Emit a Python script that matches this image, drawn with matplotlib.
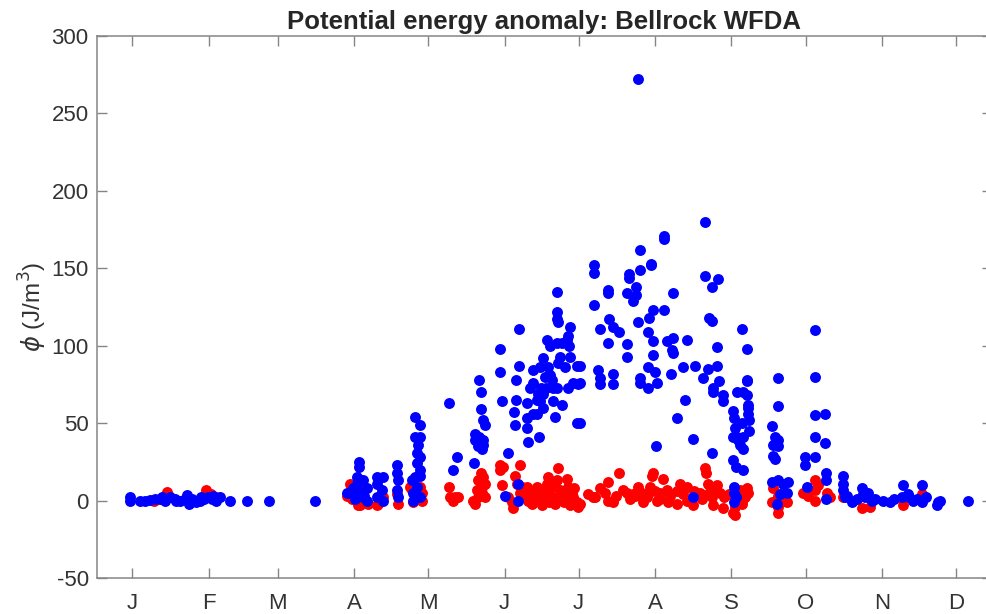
import numpy as np
import matplotlib
matplotlib.use('Agg')
import matplotlib.pyplot as plt

plt.rcParams['font.family'] = ['Liberation Sans', 'DejaVu Sans']
plt.rcParams['axes.unicode_minus'] = False

# month starts (day of year) and labels
month_days = [1, 32, 60, 91, 121, 152, 182, 213, 244, 274, 305, 335]
month_labels = ['J', 'F', 'M', 'A', 'M', 'J', 'J', 'A', 'S', 'O', 'N', 'D']

# blue series: day of year, phi (J/m^3)
blue_day = [
    0.2, 0.2, 4.2, 6.3, 8.3, 10.3, 12.3, 13, 14.4, 16.4, 18.4, 19, 20.5, 22.5, 23.3, 23.7, 24, 25.3, 26.9,
    28.6, 29, 30.2, 31.8, 33.4, 34, 35.0, 36.7, 40.7, 47.6, 56.5, 75.1,
    88.1, 90.6, 93.0, 93.0, 92.2, 94.6, 96.2, 94.6, 91.4, 89.4, 93.4, 96.2, 92, 95,
    100.3, 102.7, 100.3, 102.3, 100.3, 102.7,
    108.4, 108.4, 108.8, 108.4, 108.8,
    115.7, 117.7, 115.7, 117.7, 116.9, 116.5, 117.7, 116.5, 117.7, 115.7, 117.7, 114.5, 116.5, 114.9, 114.9, 117.7,
    129.5, 132.7, 131.1,
    141.6, 142.5, 142.5, 143.3, 144.1, 140.0, 141.6, 140.0, 143.3, 141.2, 143.3, 142.9, 139.6, 142,
    150.2, 150.2, 151.0, 153.4, 156.6, 157.9, 157.9, 156.6, 155.8, 156.2, 161.1, 161.1, 161.1, 161.5,
    163.5, 163.5, 165.1, 165.1, 165.9, 166.4, 166.8, 167.6, 166.4, 167.6, 167.6, 168.4, 169.2, 169.6,
    170.4, 170.4, 171.2, 171.6, 172.4, 173.3, 173.3, 173.3, 173.7, 173.3, 174.5, 175.3, 176.5, 177.3,
    177.7, 178.5, 178.1, 178.5, 173.7, 173.3, 175.3, 177.7, 179.7, 181.4, 181.8, 181.4, 165.5, 168.8,
    171.6, 163.5, 162.3, 157.4, 157.4, 152,
    206.1, 233.2, 216.6, 216.6, 206.9, 211.4, 211.4, 188.2, 188.2, 206.9, 202.4, 202.4, 233.2, 238.5,
    236.1, 205.3, 193.9, 193.9, 201.6, 205.3, 204.1, 220.3, 188.2, 212.2, 216.6, 210.6, 194.3, 234.9,
    236.1, 190.7, 196.0, 198.4, 206.1, 210.1, 248.3, 193.9, 201.6, 212.2, 217.8, 220.3, 225.9, 220.3,
    238.1, 250.3, 201.6, 212.2,
    219.9, 182.6, 182.6, 189.9, 190.7, 190.7, 196.0, 196.0, 206.9, 206.9, 210.1, 210.1, 213.0, 213.8,
    219.5, 224.3, 229.2, 232.4, 234.5, 238.1, 238.9, 236.5, 236.5, 240.5, 240.5, 246.2, 250.3, 250.3,
    250.7, 250.7, 251.1, 251.1, 244.6, 245.0, 245.4, 246.2, 246.7, 247.5, 248.6, 244.6, 225.1, 221.9,
    228.4, 213.4, 236.1, 244.6, 245.8, 248.6, 228.4, 182.6, 245.0, 245.0, 245.0, 245.8,
    250.3, 248.6, 250.7, 248.3, 248.6,
    262.8, 262.8, 260.4, 261.6, 262.8, 260.8, 262.8, 260.8, 261.6, 260.4, 262.8, 264.8, 266.9, 263.6,
    266.5, 262.4,
    277.8, 277.8, 277.8, 281.9, 277.8, 281.9, 273.8, 277.8, 273.8, 282.3, 282.3, 282.3, 274.6,
    289.2, 289.2, 289.2, 290.0, 292.8, 296.9, 297.3, 299.3, 300.9, 305.4, 308.2, 313.5, 313.1, 315.5,
    317.5, 321.2, 321.2, 327.7, 328.5, 327.3, 339.8,
    291, 295, 298, 302, 310, 316, 319, 323,
]
blue_phi = [
    2, 0, 0, 0, 0.5, 1, 1, 2, 0, 2, 1, 0, 0, 1, 3.5, 0, -2, 1, -1,
    0, 2, 1, 2, 1, 3, 0, 2, 0, 0, 0, 0,
    5, 8, 25, 22, 15, 13, 8, 2, 1, 5, 5, 0, 11, 3,
    15, 15, 11, 7, 2, 0,
    23, 18, 13, 7, 2,
    54, 49, 41, 41, 36, 31, 28, 24, 20, 15, 16, 13, 9, 5, 0, 2,
    63, 28, 20,
    78, 70, 59, 52, 49, 43, 41, 39, 39, 35, 36, 33, 24, 35,
    98, 83, 64, 31, 78, 111, 87, 65, 57, 49, 63, 53, 47, 38,
    84, 76, 65, 56, 41, 86, 73, 69, 64, 60, 92, 80, 104, 86,
    100, 81, 78, 64, 54, 135, 122, 117, 115, 102, 93, 102, 86, 104,
    106, 112, 100, 93, 89, 73, 62, 73, 76, 87, 75, 50, 69, 73,
    73, 56, 73, 11, 0, 3,
    272, 180, 171, 169, 162, 153, 152, 152, 147, 149, 146, 144, 145, 143,
    138, 138, 136, 134, 134, 133, 129, 134, 126, 123, 123, 118, 117, 118,
    116, 111, 112, 109, 115, 109, 111, 102, 101, 103, 103, 105, 104, 95,
    99, 98, 93, 94,
    97, 87, 76, 84, 79, 75, 82, 75, 79, 76, 73, 86, 83, 76,
    82, 86, 87, 79, 85, 87, 77, 73, 70, 68, 64, 70, 77, 68,
    62, 56, 52, 45, 58, 53, 47, 41, 39, 36, 33, 41, 65, 53,
    40, 35, 31, 26, 22, 20, 2, 50, 9, 5, -1, 2,
    78, 70, 60, 50, 41,
    79, 61, 48, 41, 39, 36, 35, 29, 27, 12, 13, 11, 12, 4,
    5, -2,
    110, 80, 55, 56, 41, 37, 28, 28, 23, 18, 13, 1, 9,
    16, 11, 7, 2, -1, 8, 4, 5, 0, 0, -1, 10, 2, 4,
    0, 10, -1, -1, 0, -3, 0,
    3, 1, 2, 1, 1, 2, 1, 2,
]

# red series: day of year, phi (J/m^3)
red_day = [
    15.2, 16, 31, 33, 24, 10, 35,
    88.1, 91.4, 93.4, 96.6, 89.4, 92.6, 94, 90,
    100.7, 102.7, 100.3, 108.8, 108.4,
    114.5, 117.7, 118.5, 114.9, 118.5, 113.7,
    129.5, 131.9, 129.9, 131.1, 133.1,
    142.5, 143.3, 141.2, 144.1, 140.8, 142.9, 139.2, 141.2, 144.1, 142.0, 142.9, 140.0,
    150.2, 150.2, 151.0, 153.4, 155.0, 155.4, 158.3, 156.2, 157.0, 158.3, 160.3, 161.5, 163.5, 165.1,
    166.4, 167.6, 169.2, 169.6, 171.2, 171.6, 173.7, 173.3, 174.5, 175.7, 177.3, 177.7, 179.3, 179.7,
    181.4, 181.8, 163.1, 172.4, 178.5, 161.1, 167.2, 151.4,
    162, 164, 166, 168, 170, 172, 174, 176, 178, 180, 160, 159, 170, 176, 164,
    198.4, 193.9, 190.7, 188.7, 196.0, 192.7, 201.6, 204.1, 206.1, 207.7, 209.7, 211.0, 211.8, 213.8,
    215.0, 216.2, 217.8, 218.2, 221.9, 223.1, 224.3, 225.9, 228.4, 231.2, 233.2, 233.6, 234.5, 236.1,
    236.5, 238.1, 239.3, 240.5, 187.8, 182.6, 247.5, 249.4, 250.3, 245.4, 244.6, 248.3, 212.2, 245.4,
    186, 194, 197, 200, 203, 205, 208, 210, 213, 215, 219, 222, 226, 229, 232, 235, 237, 241, 243,
    249.4, 250.7, 248.3, 260.8, 260.4, 262.8, 262.8, 266.5, 273.0, 277.8, 277.8, 277.8, 282.7, 289.2,
    296.9, 300.1, 313.5, 321.2,
    275, 279, 284, 263, 265,
]
red_phi = [
    5.5, 3, 6.8, 4, 1, 0, 2,
    3, 7, -3, -2, 11, -3, 10, 1,
    -2, 2, -3, -2, 4,
    7, 9, 5, -1, 0, 9,
    9, 2, 2, 0, 2,
    18, 15, 13, 11, 7, 5, 0, 2, 2, 13, 9, -2,
    23, 20, 10, 2, -1, -5, 23, 16, 11, 5, 5, 0, 5, 9,
    2, 5, 11, 15, 9, 2, 21, 13, 7, 2, 14, 9, 5, 2,
    -1, -4, -2, -2, -3, 9, -3, 22,
    3, 7, 0, 7, 4, 11, 3, 6, 1, 8, 2, 9, -1, -1, 1,
    18, 12, 8, 2, -1, 5, 5, 4, 9, 5, 2, 9, 16, 0,
    5, 14, 7, -1, -2, 11, 4, 9, -3, 5, 21, 18, 11, 2,
    -3, 10, 5, -5, 2, -2, 7, 2, 8, -4, -8, -2, 18, -9,
    4, 0, 3, 7, 1, 3, -1, 4, 6, 1, 3, 6, 0, 6, 1, 5, 8, 2, 4,
    7, 5, 0, 8, -1, -4, -8, -1, 5, 13, 7, 0, 5, 2,
    -5, -4, -3, 4,
    3, 10, 2, 3, 0,
]

fig = plt.figure(figsize=(9.87, 6.14), dpi=100)
ax = fig.add_axes([97/987, 1 - 578/614, (992 - 97)/987, (578 - 36)/614])

ax.scatter(red_day, red_phi, s=62, c='#ff0000', linewidths=0, zorder=2)
ax.scatter(blue_day, blue_phi, s=62, c='#0000ff', linewidths=0, zorder=3)

ax.set_xlim(-13.2, 349.6)
ax.set_ylim(-50, 300)
ax.set_xticks(month_days)
ax.set_xticklabels(month_labels)
ax.set_yticks(np.arange(-50, 301, 50))

for sp in ax.spines.values():
    sp.set_color('#858585')
    sp.set_linewidth(1.1)
ax.tick_params(axis='both', direction='in', length=7, width=1.0, color='#858585',
               labelsize=16, labelcolor='#333333', top=True, right=True)
ax.tick_params(axis='x', pad=11)
ax.tick_params(axis='y', pad=6)

ax.set_title('Potential energy anomaly: Bellrock WFDA', fontsize=18.5, fontweight='bold',
             color='#262626', pad=5)
ax.set_ylabel(r'$\phi$ (J/m$^3$)', fontsize=17.5, color='#333333', labelpad=2)

fig.savefig('out.png', dpi=100)
